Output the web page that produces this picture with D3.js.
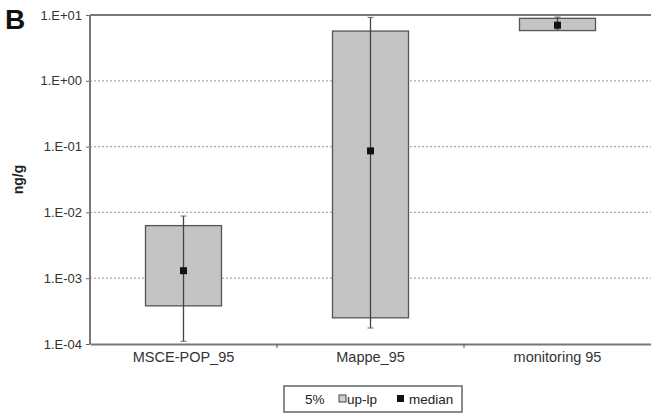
<!DOCTYPE html>
<html lang="en">
<head>
<meta charset="UTF-8">
<script src="https://d3js.org/d3.v7.min.js"></script>
<style>
    body { margin: 0; background: #fff; }
    svg { display: block; font-family: 'Liberation Sans', Arial, sans-serif; }
</style>
</head>
<body>
<svg id="chart" width="651" height="414"></svg>
<script>
// data
const categories = ["MSCE-POP_95", "Mappe_95", "monitoring 95"];
const boxLow = [3.8e-4, 2.5e-4, 5.8];
const boxHigh = [6.3e-3, 5.7, 8.9];
const whiskerLow = [1.1e-4, 1.75e-4, 5.9];
const whiskerHigh = [8.8e-3, 9.2, 9.3];
const medians = [1.3e-3, 0.086, 7.0];
const tickValues = [1e1, 1e0, 1e-1, 1e-2, 1e-3, 1e-4];
const tickLabels = ["1.E+01", "1.E+00", "1.E-01", "1.E-02", "1.E-03", "1.E-04"];

const svg = d3.select("#chart");
const margin = { left: 90, right: 0, top: 15, bottom: 70 };
const W = 651, H = 414;

const x = d3.scaleBand().domain(categories).range([margin.left, W - margin.right]);
const y = d3.scaleLog().domain([1e-4, 1e1]).range([H - margin.bottom, margin.top]);

const grid = svg.append("g");
grid.selectAll("line").data(tickValues.slice(1, -1)).enter().append("line")
    .attr("x1", margin.left).attr("x2", W)
    .attr("y1", d => y(d)).attr("y2", d => y(d))
    .attr("stroke", "#aaa").attr("stroke-width", 1.2)
    .attr("stroke-dasharray", "2,2");

// boxes
const bw = 76;
const boxes = svg.append("g");
categories.forEach((c, i) => {
    const cx = x(c) + x.bandwidth() / 2;
    boxes.append("rect")
        .attr("x", cx - bw / 2).attr("width", bw)
        .attr("y", y(boxHigh[i])).attr("height", y(boxLow[i]) - y(boxHigh[i]))
        .attr("fill", "#c4c4c4").attr("stroke", "#555").attr("stroke-width", 1.3);
});
categories.forEach((c, i) => {
    const cx = x(c) + x.bandwidth() / 2;
    boxes.append("line")
        .attr("x1", cx).attr("x2", cx)
        .attr("y1", y(whiskerHigh[i])).attr("y2", y(whiskerLow[i]))
        .attr("stroke", "#444").attr("stroke-width", 1.3);
    [whiskerHigh[i], whiskerLow[i]].forEach(v => {
        boxes.append("line")
            .attr("x1", cx - 3).attr("x2", cx + 3)
            .attr("y1", y(v)).attr("y2", y(v))
            .attr("stroke", "#666").attr("stroke-width", 1);
    });
    boxes.append("rect")
        .attr("x", cx - 3.5).attr("y", y(medians[i]) - 3.5)
        .attr("width", 7).attr("height", 7).attr("fill", "#111");
});

// axes
const yAxis = svg.append("g")
    .attr("transform", `translate(${margin.left},0)`)
    .call(d3.axisLeft(y).tickValues(tickValues)
        .tickFormat((d, i) => tickLabels[i]).tickSize(4).tickPadding(4));
yAxis.select(".domain").remove();
yAxis.selectAll(".tick line").attr("stroke", "#666");
yAxis.selectAll("text").attr("font-size", 13).attr("fill", "#333");

svg.append("line")
    .attr("x1", margin.left).attr("x2", margin.left)
    .attr("y1", y(1e1)).attr("y2", y(1e-4))
    .attr("stroke", "#777").attr("stroke-width", 2);
svg.append("line")
    .attr("x1", margin.left).attr("x2", W)
    .attr("y1", y(1e1)).attr("y2", y(1e1))
    .attr("stroke", "#777").attr("stroke-width", 2);

const xAxis = svg.append("g")
    .attr("transform", `translate(0,${y(1e-4)})`)
    .call(d3.axisBottom(x).tickSize(0).tickPadding(8));
xAxis.select(".domain").attr("stroke", "#777").attr("stroke-width", 2);
xAxis.selectAll("text").attr("font-size", 14.5).attr("fill", "#333");
// category separators
xAxis.selectAll(".sep").data(categories.slice(1)).enter().append("line")
    .attr("x1", d => x(d)).attr("x2", d => x(d))
    .attr("y1", 0).attr("y2", 4).attr("stroke", "#555");

// titles
svg.append("text").attr("x", 5).attr("y", 29)
    .attr("font-size", 28).attr("font-weight", "bold").attr("fill", "#111").text("B");
svg.append("text")
    .attr("transform", `translate(23,${(y(1e1) + y(1e-4)) / 2}) rotate(-90)`)
    .attr("text-anchor", "middle")
    .attr("font-size", 14).attr("font-weight", "bold").attr("fill", "#222").text("ng/g");

// legend
const lg = svg.append("g").attr("transform", "translate(284,386)");
lg.append("rect").attr("width", 178).attr("height", 26)
    .attr("fill", "#fff").attr("stroke", "#666").attr("stroke-width", 1.5);
lg.append("text").attr("x", 21).attr("y", 18).attr("font-size", 13.5).attr("fill", "#222").text("5%");
lg.append("rect").attr("x", 55).attr("y", 9).attr("width", 7).attr("height", 7)
    .attr("fill", "#d0d0d0").attr("stroke", "#444");
lg.append("text").attr("x", 63).attr("y", 18).attr("font-size", 13.5).attr("fill", "#222").text("up-lp");
lg.append("rect").attr("x", 113).attr("y", 9).attr("width", 7).attr("height", 7).attr("fill", "#111");
lg.append("text").attr("x", 125).attr("y", 18).attr("font-size", 13.5).attr("fill", "#222").text("median");
</script>
</body>
</html>
